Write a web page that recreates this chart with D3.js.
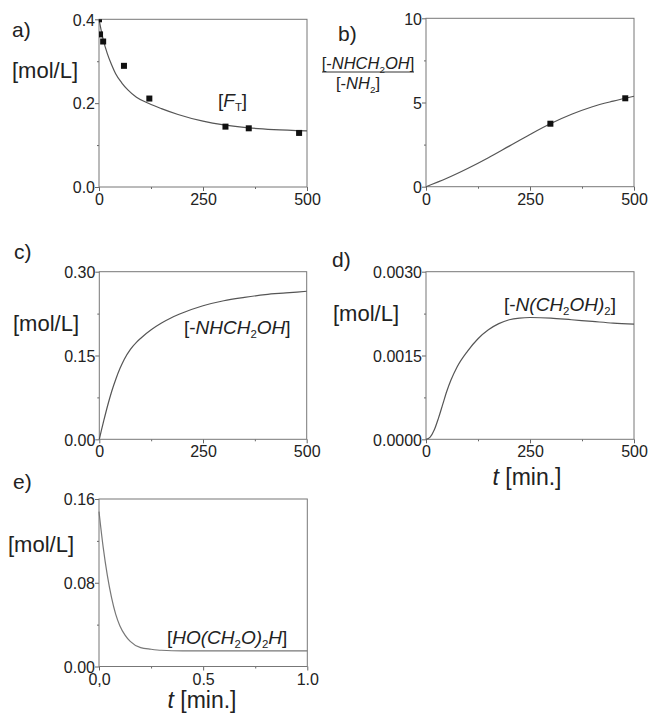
<!DOCTYPE html>
<html>
<head>
<meta charset="utf-8">
<script src="https://cdn.jsdelivr.net/npm/d3@7"></script>
<style>
  html, body { margin: 0; padding: 0; background: #fff; }
  svg { display: block; font-family: "Liberation Sans", Arial, sans-serif; }
  .frame { fill: none; stroke: #777; stroke-width: 1; }
  .tick-lbl { font-size: 16px; fill: #222; }
  .curve { fill: none; stroke: #555; stroke-width: 1.2; }
  .mark { fill: #111; }
</style>
</head>
<body>
<svg id="chart" width="650" height="713"></svg>
<script>
// --- data ---
// a) total formaldehyde [F_T], mol/L vs t [min]
const ftMeasured = [[0, 0.400], [2.5, 0.364], [10, 0.347], [60, 0.289], [121, 0.211], [304, 0.144], [360, 0.140], [481, 0.129]];
const ftModel = [[0, 0.400], [5, 0.375], [10, 0.352], [20, 0.318], [30, 0.292], [40, 0.270], [55, 0.248], [70, 0.231],
  [90, 0.214], [120, 0.199], [150, 0.187], [190, 0.173], [250, 0.157], [300, 0.148], [360, 0.141], [420, 0.137], [500, 0.134]];

// b) ratio [-NHCH2OH]/[-NH2]
const ratioMeasured = [[299, 3.74], [479, 5.25]];
const ratioModel = [[0, 0], [50, 0.5], [100, 1.08], [150, 1.72], [200, 2.41], [250, 3.1], [300, 3.75],
  [350, 4.3], [400, 4.75], [450, 5.08], [500, 5.37]];

// c) [-NHCH2OH]
const methylolModel = [[0, 0], [5, 0.016], [10, 0.031], [20, 0.060], [30, 0.086], [40, 0.108], [50, 0.127], [60, 0.143],
  [75, 0.161], [90, 0.174], [100, 0.181], [125, 0.196], [150, 0.208], [175, 0.218], [200, 0.226], [250, 0.239],
  [300, 0.248], [350, 0.254], [400, 0.259], [450, 0.262], [500, 0.265]];

// d) [-N(CH2OH)2]
const dimethylolModel = [[0, 0], [10, 0.00004], [20, 0.00017], [30, 0.00038], [40, 0.00062], [50, 0.00086],
  [60, 0.00106], [75, 0.00130], [100, 0.00158], [125, 0.00180], [150, 0.00196], [175, 0.00207], [200, 0.00214],
  [225, 0.00217], [250, 0.00218], [300, 0.00217], [350, 0.00214], [400, 0.00211], [450, 0.00208], [500, 0.00206]];

// e) [HO(CH2O)2H] vs t [min] (0..1)
const glycolModel = [[0, 0.148], [0.02, 0.114], [0.04, 0.087], [0.06, 0.066], [0.08, 0.050], [0.1, 0.039],
  [0.125, 0.030], [0.15, 0.024], [0.2, 0.018], [0.25, 0.0165], [0.3, 0.0155], [0.4, 0.015],
  [0.6, 0.015], [0.8, 0.015], [1.0, 0.015]];

// ticks
const xTicks500 = [0, 250, 500];
const xMinor500 = [125, 375];
const xTicksE = [0, 0.5, 1.0];
const xTickLabelsE = ["0,0", "0.5", "1.0"];
const xMinorE = [0.25, 0.75];
const yTicksA = [0, 0.2, 0.4], yMinorA = [0.1, 0.3];
const yTicksB = [0, 5, 10], yMinorB = [2.5, 7.5];
const yTicksC = [0, 0.15, 0.30], yMinorC = [0.075, 0.225];
const yTicksD = [0, 0.0015, 0.0030], yMinorD = [0.00075, 0.00225];
const yTicksE = [0, 0.08, 0.16], yMinorE = [0.04, 0.12];

const svg = d3.select('#chart');

function drawPanel(cfg) {
    const x = d3.scaleLinear().domain(cfg.xDomain).range([cfg.left, cfg.right]);
    const y = d3.scaleLinear().domain(cfg.yDomain).range([cfg.bottom, cfg.top]);
    const g = svg.append('g');

    const clipId = 'clip-' + cfg.id;
    g.append('clipPath').attr('id', clipId).append('rect')
        .attr('x', cfg.left).attr('y', cfg.top)
        .attr('width', cfg.right - cfg.left).attr('height', cfg.bottom - cfg.top);

    // axes (D3 axes, then restyled)
    const yAxis = d3.axisLeft(y).tickValues(cfg.yTicks).tickSize(4).tickFormat(d3.format(cfg.yFormat));
    const yAxisMinor = d3.axisLeft(y).tickValues(cfg.yMinor).tickSize(2).tickFormat('');
    const xAxis = d3.axisBottom(x).tickValues(cfg.xTicks).tickSize(4)
        .tickFormat((d, i) => cfg.xLabels ? cfg.xLabels[i] : d3.format('d')(d));
    const xAxisMinor = d3.axisBottom(x).tickValues(cfg.xMinor).tickSize(2).tickFormat('');

    const ya = g.append('g').attr('transform', `translate(${cfg.left},0)`).call(yAxis);
    g.append('g').attr('transform', `translate(${cfg.left},0)`).call(yAxisMinor).select('.domain').remove();
    const xa = g.append('g').attr('transform', `translate(0,${cfg.bottom})`).call(xAxis);
    g.append('g').attr('transform', `translate(0,${cfg.bottom})`).call(xAxisMinor).select('.domain').remove();

    [ya, xa].forEach(a => a.select('.domain').remove());
    g.selectAll('.tick line').attr('stroke', '#666');
    g.selectAll('.tick text').attr('class', 'tick-lbl').attr('font-family', null).attr('font-size', null).attr('fill', null);
    ya.selectAll('.tick text').attr('x', -4).attr('dy', '0.36em');
    xa.selectAll('.tick text').attr('y', 6).attr('dy', '0.76em');

    g.append('rect').attr('class', 'frame')
        .attr('x', cfg.left).attr('y', cfg.top)
        .attr('width', cfg.right - cfg.left).attr('height', cfg.bottom - cfg.top);

    const line = d3.line().x(d => x(d[0])).y(d => y(d[1])).curve(d3.curveMonotoneX);
    g.append('path').attr('class', 'curve').attr('d', line(cfg.model))
        .style('stroke', cfg.stroke || null);

    if (cfg.points) {
        g.append('g').attr('clip-path', `url(#${clipId})`)
            .selectAll('rect').data(cfg.points).enter().append('rect')
            .attr('class', 'mark')
            .attr('x', d => x(d[0]) - 3).attr('y', d => y(d[1]) - 3)
            .attr('width', 6).attr('height', 6);
    }
    return g;
}

drawPanel({ id: 'a', left: 99, right: 307, top: 19.3, bottom: 187,
    xDomain: [0, 500], yDomain: [0, 0.4], xTicks: xTicks500, xMinor: xMinor500,
    yTicks: yTicksA, yMinor: yMinorA, yFormat: '.1f', model: ftModel, points: ftMeasured });
drawPanel({ id: 'b', left: 426, right: 634, top: 18.3, bottom: 186.7,
    xDomain: [0, 500], yDomain: [0, 10], xTicks: xTicks500, xMinor: xMinor500,
    yTicks: yTicksB, yMinor: yMinorB, yFormat: 'd', model: ratioModel, points: ratioMeasured });
drawPanel({ id: 'c', left: 99.3, right: 306.7, top: 271.7, bottom: 439.3,
    xDomain: [0, 500], yDomain: [0, 0.3], xTicks: xTicks500, xMinor: xMinor500,
    yTicks: yTicksC, yMinor: yMinorC, yFormat: '.2f', model: methylolModel });
drawPanel({ id: 'd', left: 426, right: 634, top: 271.7, bottom: 439.3,
    xDomain: [0, 500], yDomain: [0, 0.003], xTicks: xTicks500, xMinor: xMinor500,
    yTicks: yTicksD, yMinor: yMinorD, yFormat: '.4f', model: dimethylolModel });
drawPanel({ id: 'e', left: 99, right: 307.3, top: 499, bottom: 666.5,
    xDomain: [0, 1], yDomain: [0, 0.16], xTicks: xTicksE, xLabels: xTickLabelsE, xMinor: xMinorE,
    yTicks: yTicksE, yMinor: yMinorE, yFormat: '.2f', model: glycolModel, stroke: '#777' });

// --- text labels ---
function label(x, y, size, parts, anchor) {
    const t = svg.append('text').attr('x', x).attr('y', y)
        .attr('font-size', size).attr('fill', '#222').attr('text-anchor', anchor || 'start');
    parts.forEach(p => {
        const s = t.append('tspan').text(p.t);
        if (p.i) s.attr('font-style', 'italic');
        if (p.sub) s.attr('font-size', size * 0.6).attr('dy', size * 0.22);
        if (p.up) s.attr('dy', -size * 0.22);
    });
    return t;
}

// panel letters
label(12, 37, 21, [{ t: 'a)' }]);
label(338, 41, 21, [{ t: 'b)' }]);
label(14, 259, 21, [{ t: 'c)' }]);
label(332, 267, 21, [{ t: 'd)' }]);
label(13, 489, 21, [{ t: 'e)' }]);

// y titles
label(12, 78, 22, [{ t: '[mol/L]' }]);
label(13, 331, 22, [{ t: '[mol/L]' }]);
label(333, 321, 22, [{ t: '[mol/L]' }]);
label(8, 552, 22, [{ t: '[mol/L]' }]);

// b ratio title
label(368, 69, 16.5, [{ t: '[-' }, { t: 'NHCH', i: true }, { t: '2', sub: true }, { t: 'OH', i: true, up: true }, { t: ']' }], 'middle');
svg.append('line').attr('x1', 322).attr('x2', 414).attr('y1', 72).attr('y2', 72)
    .attr('stroke', '#333').attr('stroke-width', 1);
label(358, 89, 16.5, [{ t: '[-' }, { t: 'NH', i: true }, { t: '2', sub: true }, { t: ']', up: true }], 'middle');

// species labels
label(218, 107, 19, [{ t: '[' }, { t: 'F', i: true }, { t: 'T', sub: true }, { t: ']', up: true }]);
label(184, 334, 19, [{ t: '[-' }, { t: 'NHCH', i: true }, { t: '2', sub: true }, { t: 'OH', i: true, up: true }, { t: ']' }]);
label(504, 311, 19, [{ t: '[-' }, { t: 'N(CH', i: true }, { t: '2', sub: true }, { t: 'OH)', i: true, up: true }, { t: '2', sub: true }, { t: ']', up: true }]);
label(167, 644, 19, [{ t: '[' }, { t: 'HO(CH', i: true }, { t: '2', sub: true }, { t: 'O)', i: true, up: true }, { t: '2', sub: true }, { t: 'H', i: true, up: true }, { t: ']' }]);

// x titles
label(527, 485, 23, [{ t: 't', i: true }, { t: ' [min.]' }], 'middle');
label(202, 708, 23, [{ t: 't', i: true }, { t: ' [min.]' }], 'middle');
</script>
</body>
</html>
